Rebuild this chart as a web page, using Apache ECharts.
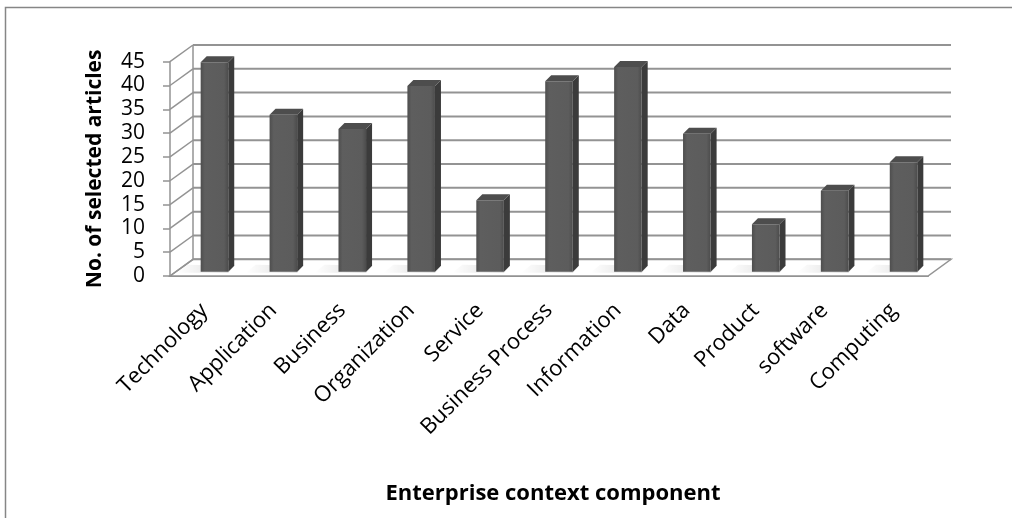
<!DOCTYPE html>
<html>
<head>
<meta charset="utf-8">
<script src="https://cdn.jsdelivr.net/npm/echarts@6/dist/echarts.min.js"></script>
<style>
  html, body { margin: 0; padding: 0; background: #fff; }
  #chart { width: 1012px; height: 518px; }
</style>
</head>
<body>
<div id="chart"></div>
<script>
// data
const categories = ['Technology', 'Application', 'Business', 'Organization', 'Service',
  'Business Process', 'Information', 'Data', 'Product', 'software', 'Computing']
const articleCounts = [44, 33, 30, 39, 15, 40, 43, 29, 10, 17, 23]
const yTicks = [0, 5, 10, 15, 20, 25, 30, 35, 40, 45]

// fake 3d depth (front -> back wall), in px
const DX = 23
const DY = -16.7
// bar front face shift and bar depth
const BAR_DX = 10
const BAR_DY = -4.2
const SIDE_DX = 6
const SIDE_DY = -6
const GRID_LINE = '#939393'
const FONT = 'Open Sans'

let chart = echarts.init(document.getElementById('chart'))

// back wall grid lines, left wall diagonals and the floor
function renderWalls (params, api) {
  let cs = params.coordSys
  let v = api.value(0)
  let y = api.coord([0, v])[1]
  let children = []
  if (v === 0) {
    children.push({
      type: 'polygon',
      shape: { points: [[cs.x, y], [cs.x + cs.width, y], [cs.x + cs.width + DX, y + DY], [cs.x + DX, y + DY]] },
      style: { fill: '#fff', stroke: GRID_LINE, lineWidth: 1.5 }
    })
  }
  if (v === yTicks[yTicks.length - 1]) {
    let y0 = api.coord([0, 0])[1]
    children.push({
      type: 'line',
      shape: { x1: cs.x + DX, y1: y0 + DY, x2: cs.x + DX, y2: y + DY },
      style: { stroke: GRID_LINE, lineWidth: 1.5 }
    })
  }
  children.push({
    type: 'line',
    shape: { x1: cs.x + DX, y1: y + DY, x2: cs.x + cs.width + DX, y2: y + DY },
    style: { stroke: GRID_LINE, lineWidth: 2 }
  })
  children.push({
    type: 'line',
    shape: { x1: cs.x, y1: y, x2: cs.x + DX, y2: y + DY },
    style: { stroke: GRID_LINE, lineWidth: 1.5 }
  })
  return { type: 'group', children: children }
}

// 3d looking column: front, side, top faces
function renderBar (params, api) {
  let idx = api.value(0)
  let top = api.coord([idx, api.value(1)])
  let base = api.coord([idx, 0])
  let w = api.size([1, 0])[0] * 0.4
  let xl1 = top[0] - w / 2 + BAR_DX
  let xr1 = xl1 + w
  let yt1 = top[1] + BAR_DY
  let yb1 = base[1] + BAR_DY
  return {
    type: 'group',
    children: [
      {
        // soft shadow on the floor
        type: 'polygon',
        shape: { points: [[xl1 - 24, yb1 + 1], [xr1, yb1 + 1], [xr1 + SIDE_DX, yb1 + SIDE_DY], [xl1 - 14, yb1 + SIDE_DY - 1]] },
        style: {
          fill: new echarts.graphic.LinearGradient(0, 0, 1, 0, [
            { offset: 0, color: 'rgba(0,0,0,0)' },
            { offset: 1, color: 'rgba(0,0,0,0.16)' }
          ])
        }
      },
      {
        type: 'polygon',
        shape: { points: [[xr1, yt1], [xr1 + SIDE_DX, yt1 + SIDE_DY], [xr1 + SIDE_DX, yb1 + SIDE_DY], [xr1, yb1]] },
        style: { fill: '#3b3b3b' }
      },
      {
        type: 'polygon',
        shape: { points: [[xl1, yt1], [xr1, yt1], [xr1 + SIDE_DX, yt1 + SIDE_DY], [xl1 + SIDE_DX, yt1 + SIDE_DY]] },
        style: { fill: '#4d4d4d' }
      },
      {
        type: 'rect',
        shape: { x: xl1, y: yt1, width: w, height: yb1 - yt1 },
        style: {
          fill: new echarts.graphic.LinearGradient(0, 0, 1, 0, [
            { offset: 0, color: '#4e4e4e' },
            { offset: 0.15, color: '#5e5e5e' },
            { offset: 0.85, color: '#5c5c5c' },
            { offset: 1, color: '#4c4c4c' }
          ])
        }
      }
    ]
  }
}

let option = {
  backgroundColor: '#fff',
  animation: false,
  textStyle: { fontFamily: FONT },
  title: {
    text: 'Enterprise context component',
    left: 548,
    top: 478,
    textAlign: 'center',
    textStyle: { fontFamily: FONT, fontSize: 22, fontWeight: 'bold', color: '#000' }
  },
  grid: { left: 170, right: 84, top: 61.7, bottom: 242 },
  xAxis: {
    type: 'category',
    data: categories,
    axisLine: { show: true, lineStyle: { color: GRID_LINE, width: 2 } },
    axisTick: { show: false },
    axisLabel: { rotate: 45, margin: 31, fontSize: 22, color: '#000', fontFamily: FONT, interval: 0 }
  },
  yAxis: {
    type: 'value',
    min: 0,
    max: 45,
    interval: 5,
    name: 'No. of selected articles',
    nameLocation: 'middle',
    nameRotate: 90,
    nameGap: 64,
    nameTextStyle: { fontSize: 21, fontWeight: 'bold', color: '#000', fontFamily: FONT },
    axisLine: { show: true, lineStyle: { color: GRID_LINE, width: 1.5 } },
    axisTick: { show: true, length: 7, lineStyle: { color: GRID_LINE, width: 1.5 } },
    axisLabel: { margin: 25, fontSize: 21, color: '#000', fontFamily: FONT },
    splitLine: { show: false }
  },
  graphic: [{
    type: 'rect',
    silent: true,
    shape: { x: 5.5, y: 7.5, width: 1100, height: 600 },
    style: { fill: 'none', stroke: '#868686', lineWidth: 1.5 }
  }],
  series: [
    {
      type: 'custom',
      renderItem: renderWalls,
      data: yTicks.map(v => [v]),
      encode: { y: 0 },
      clip: false,
      silent: true,
      z: 1
    },
    {
      type: 'custom',
      renderItem: renderBar,
      data: articleCounts.map((v, i) => [i, v]),
      encode: { x: 0, y: 1 },
      clip: false,
      z: 3
    }
  ]
}

chart.setOption(option)
</script>
</body>
</html>
